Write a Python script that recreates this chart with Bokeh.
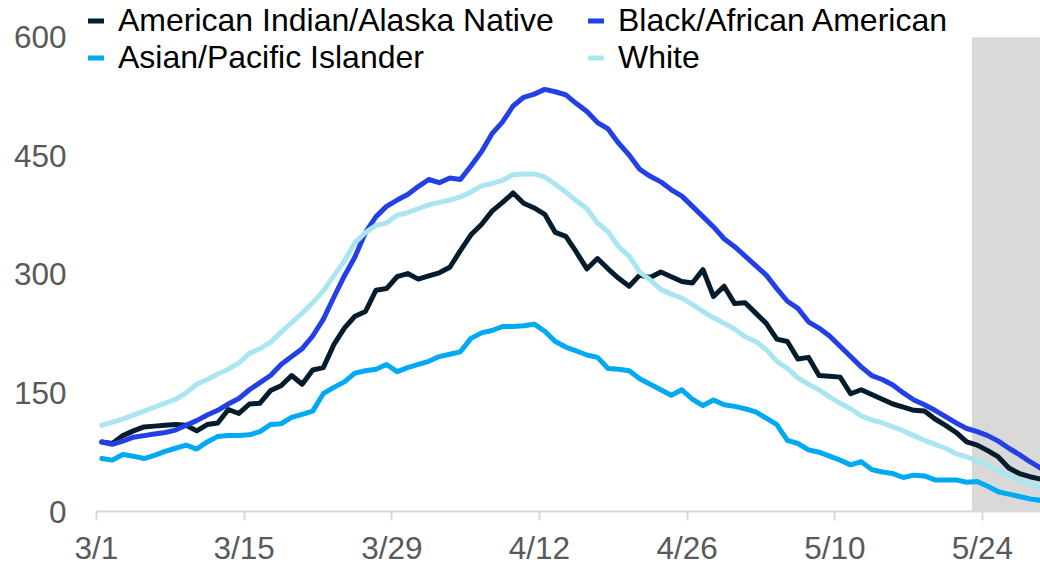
from datetime import date, timedelta
from bokeh.plotting import figure
from bokeh.models import FixedTicker, BoxAnnotation, Legend, LegendItem, Range1d
from bokeh.embed import file_html
from bokeh.resources import INLINE

start_day = date(2020, 3, 1)
dates = [(start_day + timedelta(days=i)) for i in range(90)]
date_labels = [f"{d.month}/{d.day}" for d in dates]

tick_days = [0, 14, 28, 42, 56, 70, 84]
tick_labels = ["3/1", "3/15", "3/29", "4/12", "4/26", "5/10", "5/24"]
y_ticks = [0, 150, 300, 450, 600]
y_max = 600
shade_start_day = 83  # 5/23

american_indian = [88, 86, 96, 102, 107, 108, 109, 110, 109, 102,
                   110, 112, 129, 124, 136, 137, 153, 159, 172, 161,
                   179, 182, 211, 232, 247, 253, 280, 282, 297, 301,
                   294, 298, 302, 309, 330, 350, 363, 380, 391, 403,
                   390, 384, 376, 353, 348, 328, 307, 320, 307, 295,
                   285, 299, 296, 303, 297, 291, 289, 306, 272, 285,
                   263, 264, 251, 238, 218, 215, 193, 195, 172, 171,
                   170, 149, 154, 148, 142, 136, 132, 128, 127, 117,
                   109, 100, 88, 84, 77, 69, 55, 48, 44, 41]

black = [88, 85, 89, 94, 96, 98, 100, 103, 109, 115,
         122, 128, 136, 143, 154, 163, 172, 186, 196, 206,
         222, 243, 271, 298, 322, 353, 373, 386, 394, 401,
         411, 420, 416, 422, 420, 437, 455, 478, 493, 513,
         524, 528, 534, 531, 527, 516, 506, 492, 484, 466,
         451, 433, 424, 417, 407, 399, 386, 373, 360, 345,
         335, 323, 311, 299, 282, 266, 257, 240, 232, 222,
         209, 196, 183, 172, 167, 160, 150, 141, 135, 128,
         120, 112, 105, 101, 96, 89, 80, 72, 63, 55]

asian = [67, 65, 72, 70, 67, 71, 76, 80, 84, 79,
         88, 95, 96, 96, 97, 101, 110, 111, 119, 123,
         127, 149, 157, 164, 175, 178, 180, 186, 177, 182,
         186, 190, 196, 199, 202, 219, 226, 229, 234, 234,
         235, 237, 228, 215, 208, 203, 198, 195, 181, 180,
         178, 168, 161, 154, 147, 154, 142, 134, 141, 135,
         133, 130, 126, 118, 110, 90, 86, 78, 75, 70,
         65, 59, 63, 53, 50, 48, 43, 46, 45, 40,
         40, 40, 37, 38, 32, 25, 22, 19, 16, 14]

white = [109, 113, 117, 122, 127, 132, 137, 142, 150, 161,
         167, 174, 180, 188, 200, 206, 214, 227, 239, 251,
         264, 279, 298, 317, 340, 353, 362, 365, 375, 378,
         383, 388, 391, 394, 398, 404, 412, 415, 419, 426,
         427, 427, 423, 414, 404, 393, 383, 365, 354, 335,
         323, 303, 293, 281, 275, 270, 262, 253, 245, 238,
         231, 221, 215, 205, 190, 181, 169, 161, 154, 145,
         137, 130, 121, 116, 112, 107, 102, 96, 90, 85,
         80, 73, 69, 64, 59, 51, 45, 40, 35, 30]

series_names = ["American Indian/Alaska Native", "Black/African American",
                "Asian/Pacific Islander", "White"]
series_values = [american_indian, black, asian, white]
series_colors = ["#051C2C", "#2340E6", "#00A9F4", "#AAE6F0"]

# points sit in the middle of each day slot
x_pos = [i + 0.5 for i in range(len(dates))]

# The frame is widened to the left and up so that the legend (which sits
# partly outside the data area) is not clipped; the axis line is bounded.
frame_left = 70
frame_h = 515
px_per_day = (1040 - 96) / 89.5
x_start = -(96 - frame_left) / px_per_day
y_top = y_max * frame_h / 478.0

p = figure(width=1040, height=568, output_backend="svg", toolbar_location=None,
           x_range=Range1d(x_start, 89.5), y_range=Range1d(0, y_top),
           min_border_left=frame_left, min_border_right=0, min_border_top=0,
           min_border_bottom=53)
p.outline_line_color = None
p.xgrid.visible = False
p.ygrid.visible = False
p.background_fill_color = "white"
p.border_fill_color = "white"

shade = BoxAnnotation(left=shade_start_day, top=y_max, bottom=0,
                      fill_color="#D9D9D9", fill_alpha=1.0,
                      line_color=None, level="underlay")
p.add_layout(shade)

renderers = {}
for name, vals, col in zip(series_names, series_values, series_colors):
    r = p.line(x_pos, vals, line_color=col, line_width=5,
               line_join="round", line_cap="round")
    renderers[name] = r

# axes
p.xaxis.ticker = FixedTicker(ticks=tick_days)
p.xaxis.bounds = (0, 89.5)
p.xaxis.major_label_overrides = {d: l for d, l in zip(tick_days, tick_labels)}
p.xaxis.axis_line_color = "#D9D9D9"
p.xaxis.axis_line_width = 2
p.xaxis.major_tick_line_color = "#D9D9D9"
p.xaxis.major_tick_line_width = 2
p.xaxis.major_tick_out = 9
p.xaxis.major_tick_in = 0
p.xaxis.minor_tick_line_color = None
p.xaxis.major_label_standoff = 9
p.xaxis.major_label_text_font = "Liberation Sans"
p.xaxis.major_label_text_font_size = "31.5px"
p.xaxis.major_label_text_color = "#595959"

p.yaxis.ticker = FixedTicker(ticks=y_ticks)
p.yaxis.axis_line_color = None
p.yaxis.major_tick_line_color = None
p.yaxis.minor_tick_line_color = None
p.yaxis.major_tick_out = 0
p.yaxis.major_tick_in = 0
p.yaxis.major_label_standoff = 4
p.yaxis.major_label_text_font = "Liberation Sans"
p.yaxis.major_label_text_font_size = "31.5px"
p.yaxis.major_label_text_color = "#595959"


def make_legend(names, loc):
    lg = Legend(items=[LegendItem(label=n, renderers=[renderers[n]]) for n in names],
                location=loc, orientation="vertical",
                label_text_font="Liberation Sans", label_text_font_size="32px",
                label_text_color="#000000", label_standoff=14,
                glyph_width=16, glyph_height=35, label_height=35, spacing=0,
                padding=0, margin=0, border_line_color=None,
                background_fill_alpha=0.0)
    return lg


p.add_layout(make_legend(["American Indian/Alaska Native", "Asian/Pacific Islander"], (18, 435)))
p.add_layout(make_legend(["Black/African American", "White"], (518, 435)))

open("out.html", "w").write(file_html(p, INLINE))
